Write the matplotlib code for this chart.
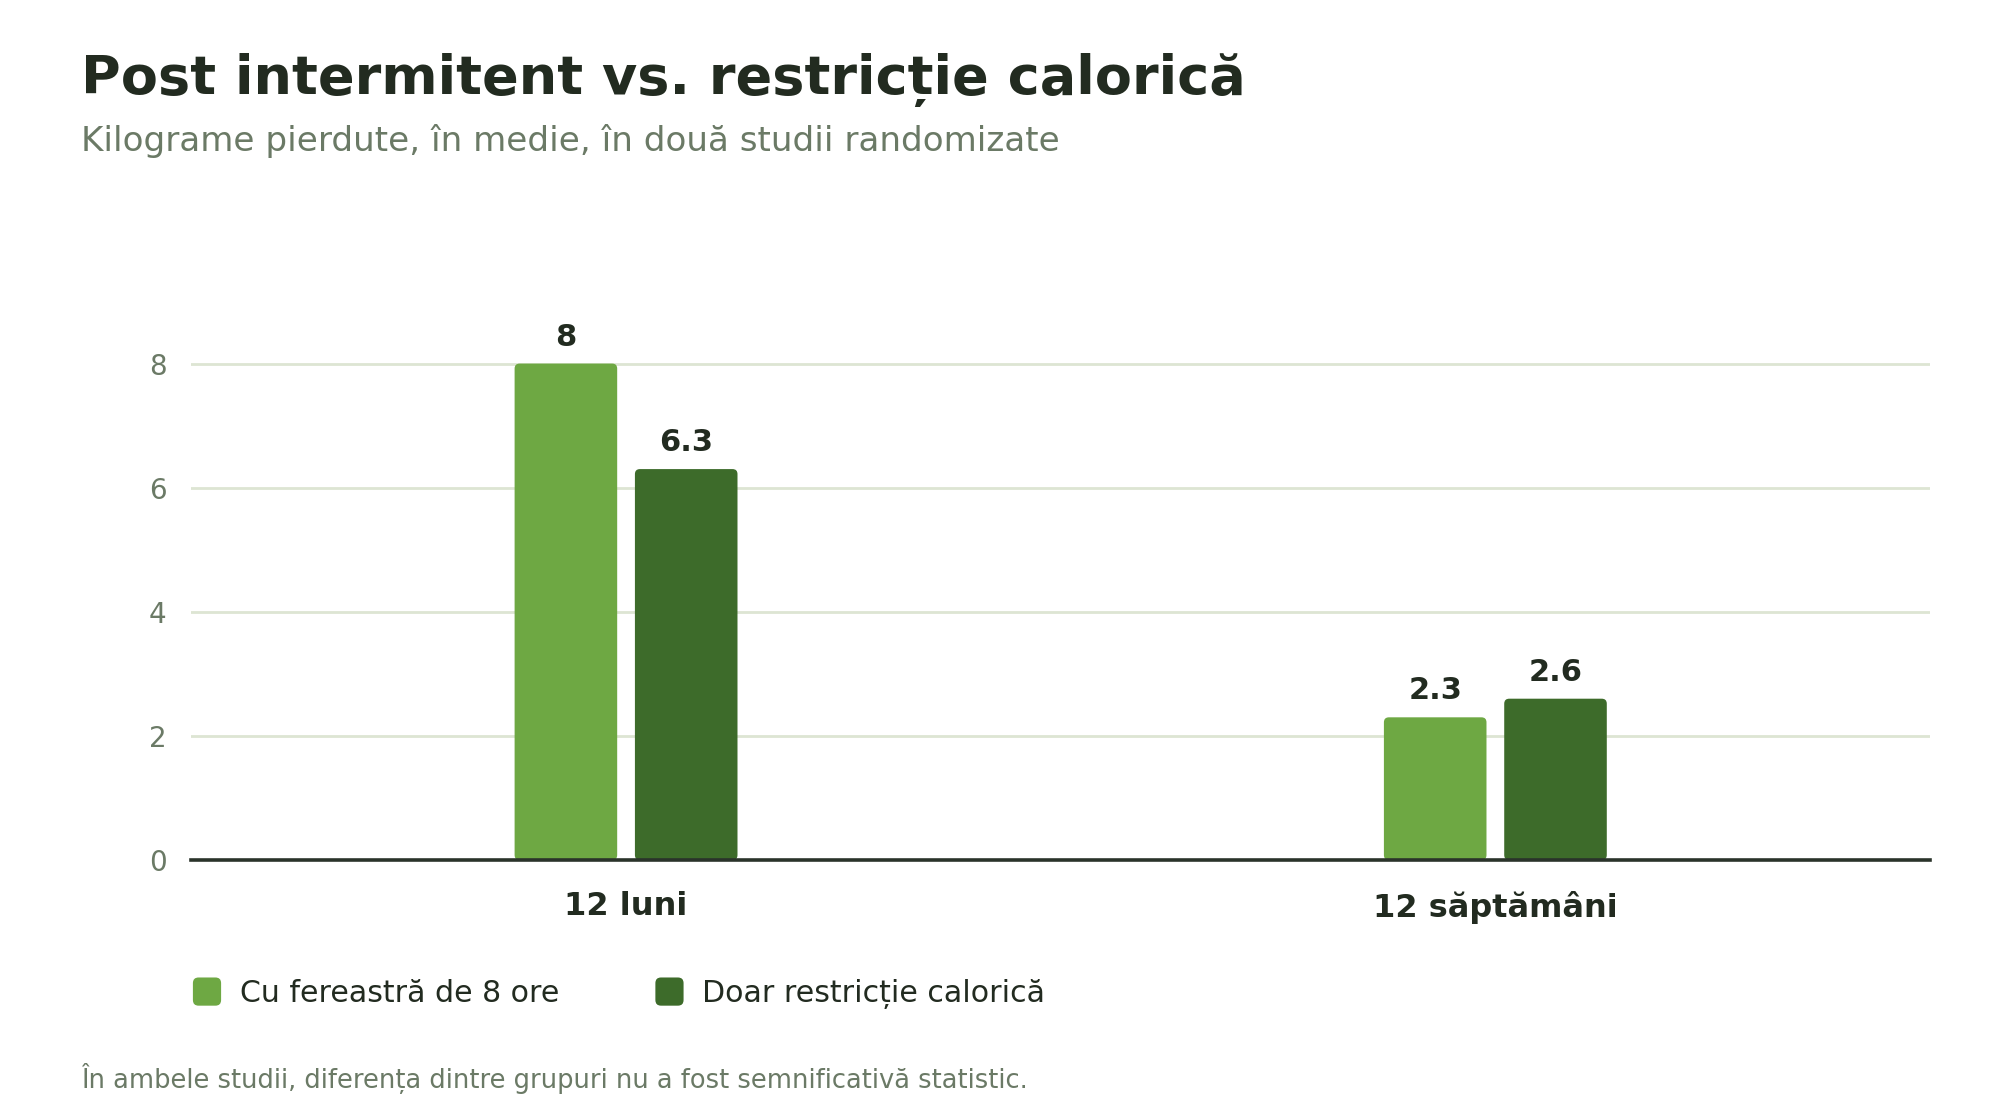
import matplotlib
matplotlib.use("Agg")
import matplotlib.pyplot as plt
from matplotlib.patches import FancyBboxPatch, Patch
from matplotlib.legend_handler import HandlerPatch
import numpy as np

plt.rcParams['font.family'] = ['DejaVu Sans']

categories = ["12 luni", "12 săptămâni"]
series_names = ["Cu fereastră de 8 ore", "Doar restricție calorică"]
fereastra = [8, 2.3]
restrictie = [6.3, 2.6]
yticks = [0, 2, 4, 6, 8]

title = "Post intermitent vs. restricție calorică"
subtitle = "Kilograme pierdute, în medie, în două studii randomizate"
footnote = "În ambele studii, diferența dintre grupuri nu a fost semnificativă statistic."

LIGHT = "#6EA843"
DARK = "#3D6B2A"
INK = "#222B20"
MUTED = "#6B7A66"
GRID = "#DDE5D3"

W, H = 2000, 1120
fig = plt.figure(figsize=(10, 5.6), dpi=200)
fig.patch.set_facecolor("white")
ax_left, ax_bottom, ax_w, ax_h = 0.0957, 0.2321, 0.8693, 0.4876
ax = fig.add_axes([ax_left, ax_bottom, ax_w, ax_h])

x = np.arange(len(categories))
width = 0.118
offset = 0.0692
ymax = 8.8
ax.set_xlim(-0.5, 1.5)
ax.set_ylim(0, ymax)

px_per_x = ax_w * W / 2.0
px_per_y = ax_h * H / ymax
r_px = 5
rx = r_px / px_per_x
aspect = px_per_x / px_per_y

for vals, col, off in [(fereastra, LIGHT, -offset), (restrictie, DARK, offset)]:
    bars = ax.bar(x + off, vals, width=width, color=col, zorder=3)
    for b, v in zip(bars, vals):
        b.set_visible(False)
        p = FancyBboxPatch((b.get_x(), b.get_y()), b.get_width(), b.get_height(),
                           boxstyle=f"round,pad=0,rounding_size={rx}",
                           mutation_aspect=aspect, facecolor=col, edgecolor="none",
                           zorder=3)
        ax.add_patch(p)
        ax.annotate(f"{v:g}", (b.get_x() + b.get_width() / 2, v),
                    xytext=(0, 4.3), textcoords="offset points",
                    ha="center", va="bottom", fontsize=11, fontweight="bold",
                    color=INK)

ax.set_yticks(yticks)
ax.set_yticklabels([str(t) for t in yticks], fontsize=10, color=MUTED)
ax.set_xticks(x)
ax.set_xticklabels(categories, fontsize=11.5, fontweight="bold", color=INK)
ax.tick_params(axis="y", length=0, pad=9)
ax.tick_params(axis="x", length=0, pad=11)
ax.grid(axis="y", color=GRID, linewidth=1.0, zorder=0)
ax.set_axisbelow(True)
for s in ["top", "right", "left"]:
    ax.spines[s].set_visible(False)
ax.spines["bottom"].set_color("#2A332A")
ax.spines["bottom"].set_linewidth(1.3)
ax.spines["bottom"].set_zorder(4)

fig.text(0.0405, 1 - 94 / H, title, fontsize=19.5, fontweight="bold", color=INK,
         ha="left", va="baseline")
fig.text(0.0405, 1 - 151 / H, subtitle, fontsize=12.3, color=MUTED,
         ha="left", va="baseline")
fig.text(0.0405, 1 - 1078 / H, footnote, fontsize=9.25, color=MUTED,
         ha="left", va="center")


class RoundHandler(HandlerPatch):
    def create_artists(self, legend, orig_handle, xdescent, ydescent, width, height,
                       fontsize, trans):
        s = min(width, height) * 1.05
        p = FancyBboxPatch((-xdescent + (width - s) / 2, -ydescent + (height - s) / 2), s, s,
                           boxstyle=f"round,pad=0,rounding_size={s*0.2}",
                           facecolor=orig_handle.get_facecolor(), edgecolor="none",
                           transform=trans)
        return [p]


handles = [Patch(facecolor=LIGHT), Patch(facecolor=DARK)]
leg = fig.legend(handles, series_names, loc="center left",
                 bbox_to_anchor=(0.0825, 1 - 993.5 / H), ncol=2, frameon=False,
                 fontsize=10.8, handlelength=1.0, handleheight=1.0,
                 handletextpad=0.6, columnspacing=3.17,
                 handler_map={Patch: RoundHandler()})
for t in leg.get_texts():
    t.set_color(INK)

fig.savefig("out.png", dpi=200, facecolor="white")
